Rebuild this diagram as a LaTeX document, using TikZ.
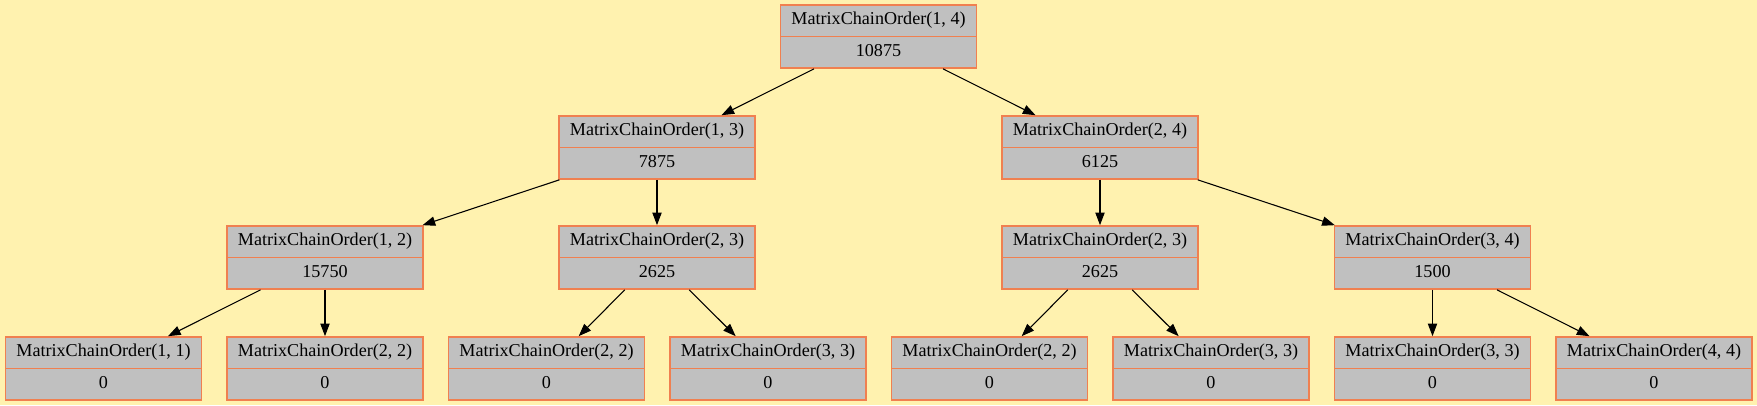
\documentclass[tikz,border=0pt]{standalone}
\usepackage{fontspec}
\setmainfont{Liberation Serif}
\usepackage{tikz}
\usetikzlibrary{shapes.multipart}
\usetikzlibrary{arrows.meta}
\definecolor{paper}{RGB}{255,242,175}
\definecolor{cellgray}{RGB}{192,192,192}
\definecolor{celledge}{RGB}{240,128,80}
\tikzset{
  call/.style={rectangle split, rectangle split parts=2, draw=celledge, fill=cellgray,
    line width=1.1pt, minimum width=147pt, inner xsep=0pt, inner ysep=3.3pt,
    rectangle split part align=center,
    font=\fontsize{13.6}{16}\selectfont},
  edge/.style={draw=black, line width=0.8pt, -{Triangle[length=9.5pt,width=7pt]}}
}
\newcommand{\mco}[4]{\node[call] (#1) at (#2) {\strut MatrixChainOrder(#3)\nodepart{two}\strut #4};}

\begin{document}
\begin{tikzpicture}[x=0.75pt, y=-0.75pt]
        \fill[paper] (0,0) rectangle (1757,405);
        \useasboundingbox (0,0) rectangle (1757,405);
        % level 1
        \mco{n14}{878.5,36.5}{1, 4}{10875}
        % level 2
        \mco{n13}{657,147.5}{1, 3}{7875}
        \mco{n24}{1100,147.5}{2, 4}{6125}
        % level 3
        \mco{n12}{325,257.5}{1, 2}{15750}
        \mco{n23a}{657,257.5}{2, 3}{2625}
        \mco{n23b}{1100,257.5}{2, 3}{2625}
        \mco{n34}{1432.5,257.5}{3, 4}{1500}
        % level 4
        \mco{l11}{103.5,368.5}{1, 1}{0}
        \mco{l22a}{325,368.5}{2, 2}{0}
        \mco{l22b}{546.5,368.5}{2, 2}{0}
        \mco{l33a}{768,368.5}{3, 3}{0}
        \mco{l22c}{989.5,368.5}{2, 2}{0}
        \mco{l33b}{1211,368.5}{3, 3}{0}
        \mco{l33c}{1432.5,368.5}{3, 3}{0}
        \mco{l44}{1654,368.5}{4, 4}{0}
        % edges
        \draw[edge] (n14) -- (n13);
        \draw[edge] (n14) -- (n24);
        \draw[edge] (n13) -- (n12);
        \draw[edge] (n13) -- (n23a);
        \draw[edge] (n24) -- (n23b);
        \draw[edge] (n24) -- (n34);
        \draw[edge] (n12) -- (l11);
        \draw[edge] (n12) -- (l22a);
        \draw[edge] (n23a) -- (l22b);
        \draw[edge] (n23a) -- (l33a);
        \draw[edge] (n23b) -- (l22c);
        \draw[edge] (n23b) -- (l33b);
        \draw[edge] (n34) -- (l33c);
        \draw[edge] (n34) -- (l44);
    \end{tikzpicture}
\end{document}
